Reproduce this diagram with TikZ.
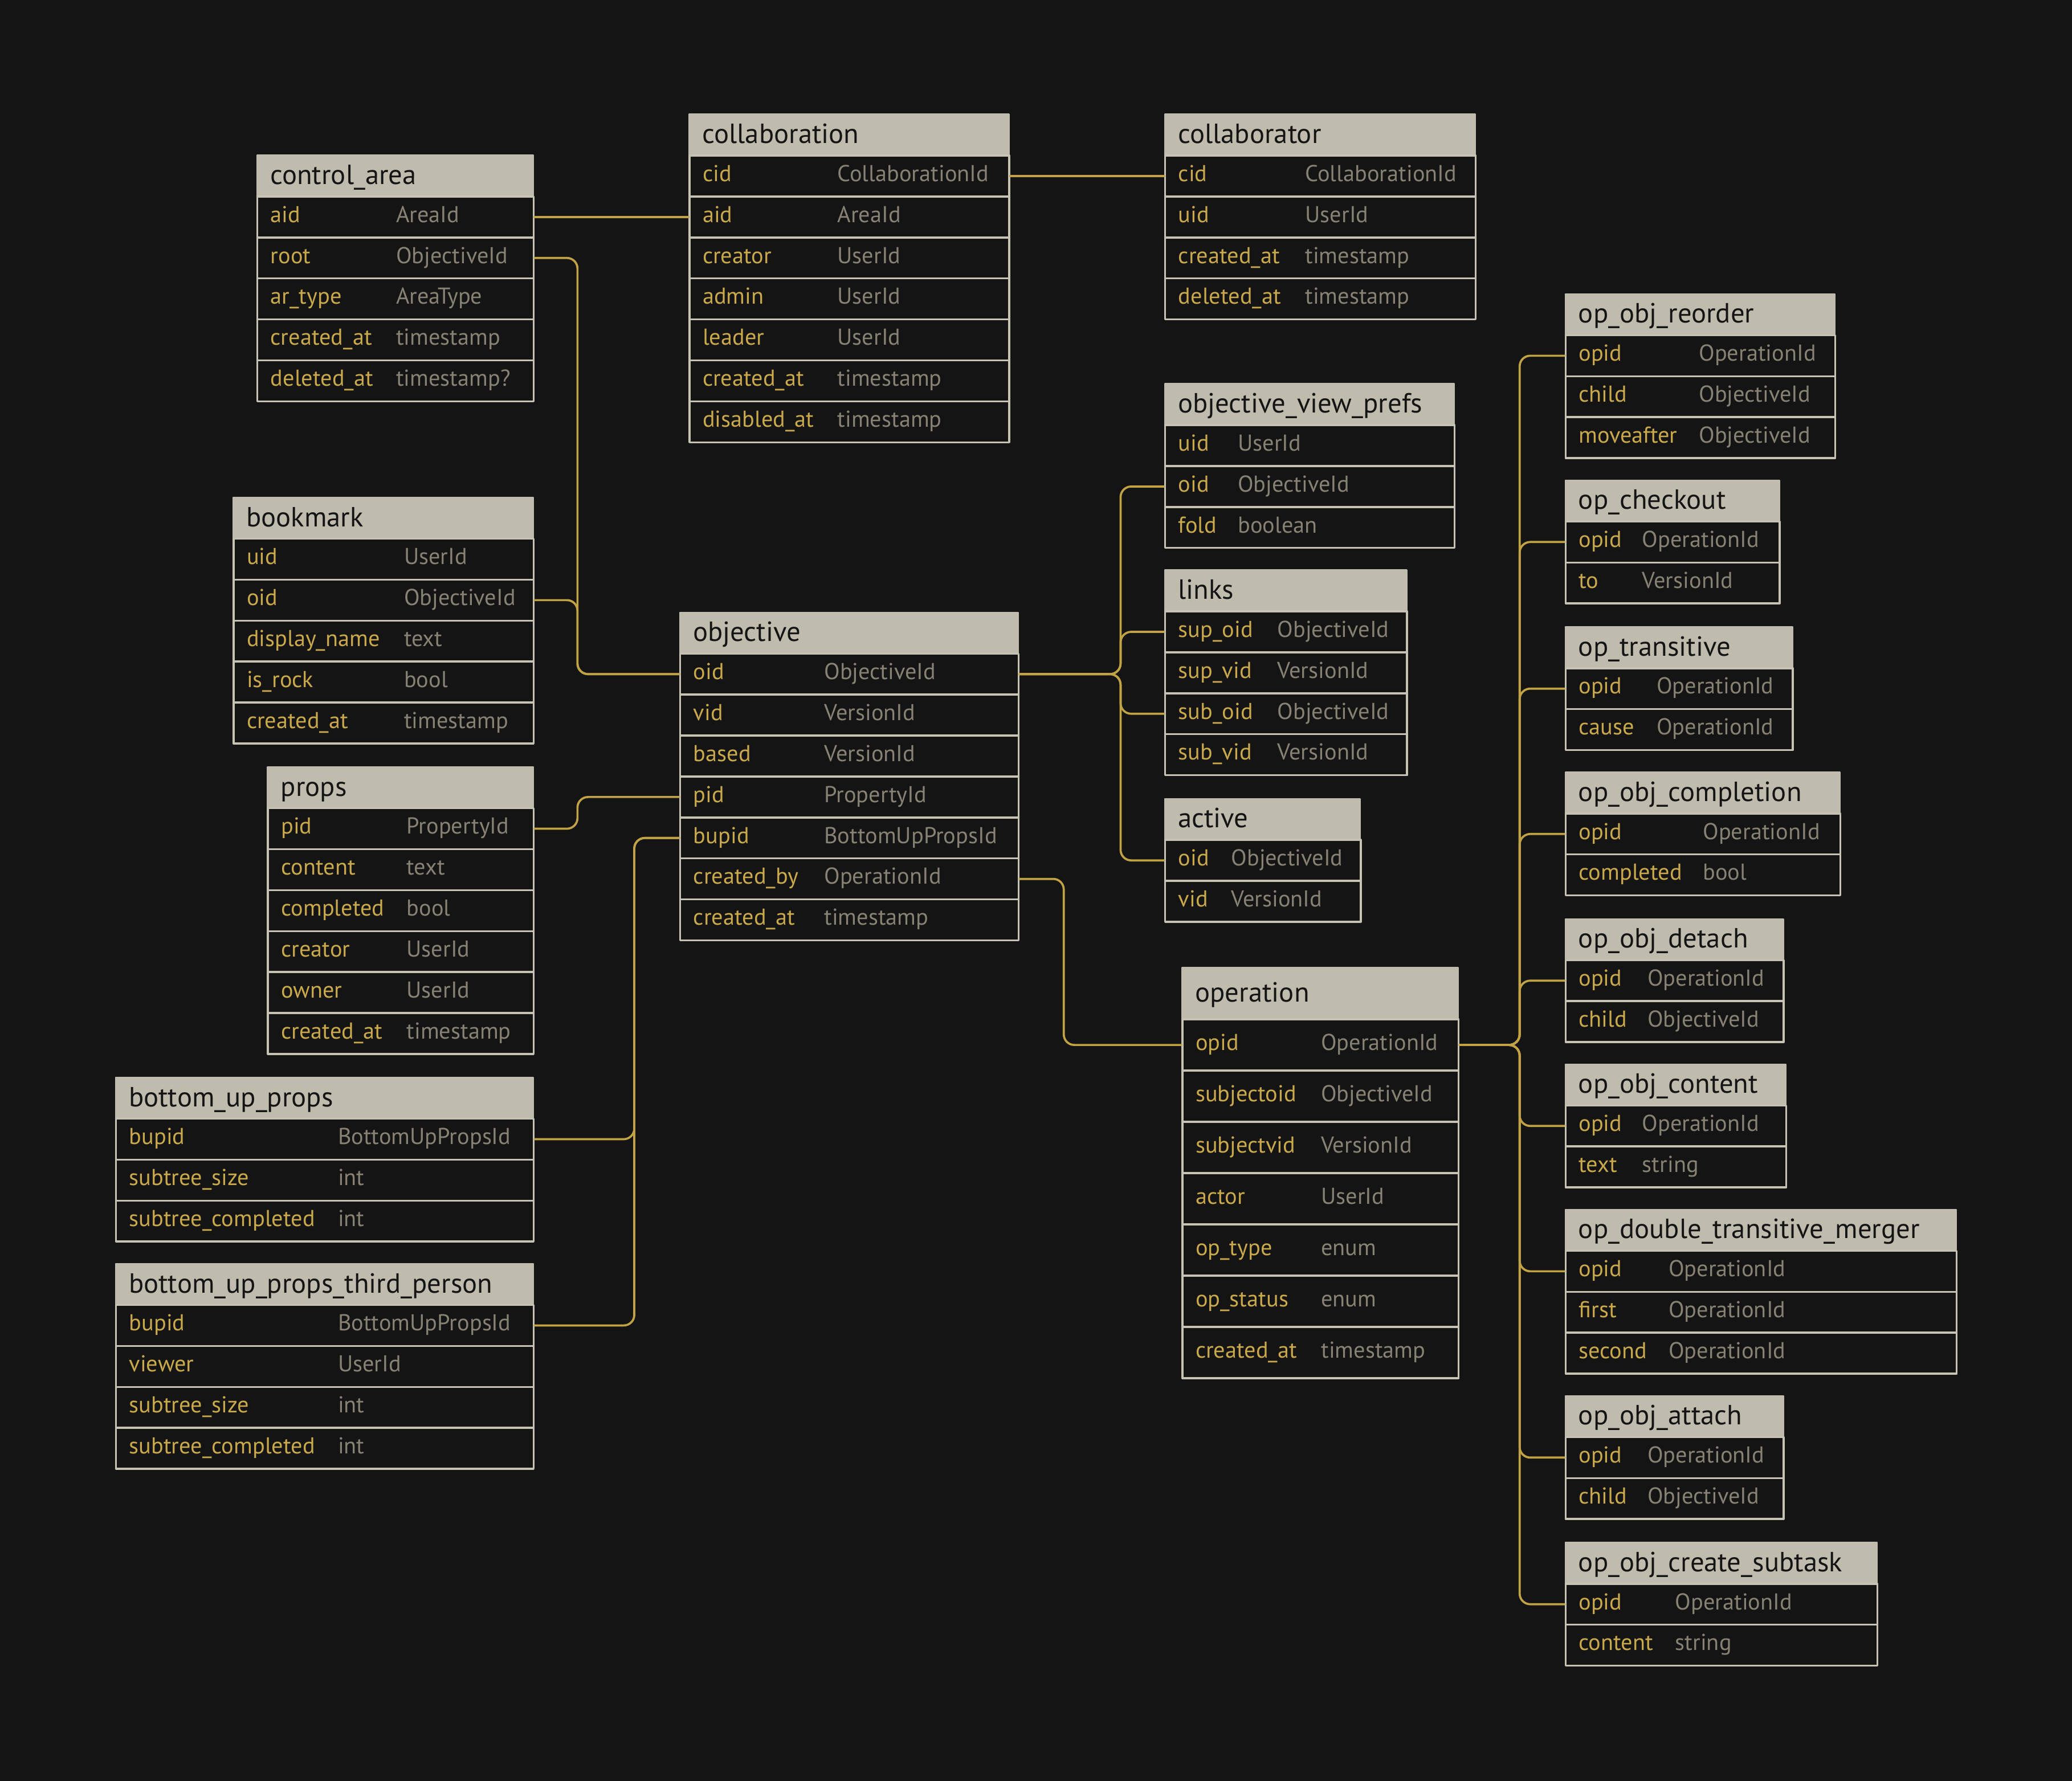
\documentclass[tikz,border=0pt]{standalone}
\usepackage{fontspec}
\setmainfont{PT Sans}
\usetikzlibrary{calc}

\definecolor{bgcol}{HTML}{141414}
\definecolor{hdrcol}{HTML}{BFBCAE}
\definecolor{edgecol}{HTML}{C6C3B5}
\definecolor{fldcol}{HTML}{C9A94C}
\definecolor{typecol}{HTML}{878273}
\definecolor{linkcol}{HTML}{C2A344}

\tikzset{
	tblhead/.style={anchor=north west, fill=hdrcol, draw=hdrcol, line width=1pt, text=bgcol,
		inner xsep=10pt, inner ysep=0pt, font=\fontsize{21}{23}\selectfont, text height=16pt, text depth=3pt},
	tblrow/.style={anchor=north west, fill=bgcol, draw=edgecol, line width=1.5pt, text=fldcol,
		inner xsep=10pt, inner ysep=0pt, font=\fontsize{17.4}{19}\selectfont, text height=12pt, text depth=4pt},
	conn/.style={draw=linkcol, line width=1.6pt, rounded corners=8pt},
}

% [row height]{alias}{title}{x}{y}{width}{type column}{field/type list}
\newcommand{\dbtable}[8][31]{%
	\node[tblhead, minimum height=#1pt] (#2) at (#4,#5) {\makebox[\dimexpr#6pt-20pt\relax][l]{#3}};
	\foreach \fld/\typ [count=\i] in {#8}
		\node[tblrow, minimum height=#1pt] (#2-\i) at (#4,#5+#1*\i)
			{\makebox[#7pt][l]{\fld}\makebox[\dimexpr#6pt-#7pt-20pt\relax][l]{\textcolor{typecol}{\typ}}};
}

\begin{document}
\begin{tikzpicture}[x=1pt, y=-1pt, line join=round, line cap=round]
	\path[use as bounding box, fill=bgcol] (0,0) rectangle (1568,1348);
	%\draw[gray!30] (0,0) grid[step=100] (1568,1348);
	\coordinate (busA) at (437,0);
	\coordinate (busB) at (480,0);
	\coordinate (busC) at (848,0);
	\coordinate (busD) at (805,0);
	\coordinate (busE) at (1150,0);

	\dbtable{ca}{control\_area}{194}{117}{209}{95}{aid/AreaId, root/ObjectiveId, ar\_type/AreaType, created\_at/timestamp, deleted\_at/timestamp?}
	\dbtable{clb}{collaboration}{521}{86}{242}{102}{cid/CollaborationId, aid/AreaId, creator/UserId, admin/UserId, leader/UserId, created\_at/timestamp, disabled\_at/timestamp}
	\dbtable{clr}{collaborator}{881}{86}{235}{96}{cid/CollaborationId, uid/UserId, created\_at/timestamp, deleted\_at/timestamp}
	\dbtable{bm}{bookmark}{176}{376}{227}{119}{uid/UserId, oid/ObjectiveId, display\_name/text, is\_rock/bool, created\_at/timestamp}
	\dbtable{pr}{props}{202}{580}{201}{95}{pid/PropertyId, content/text, completed/bool, creator/UserId, owner/UserId, created\_at/timestamp}
	\dbtable{bu}{bottom\_up\_props}{87}{815}{316}{158}{bupid/BottomUpPropsId, subtree\_size/int, subtree\_completed/int}
	\dbtable{bt}{bottom\_up\_props\_third\_person}{87}{956}{316}{158}{bupid/BottomUpPropsId, viewer/UserId, subtree\_size/int, subtree\_completed/int}
	\dbtable{obj}{objective}{514}{463}{256}{99}{oid/ObjectiveId, vid/VersionId, based/VersionId, pid/PropertyId, bupid/BottomUpPropsId, created\_by/OperationId, created\_at/timestamp}
	\dbtable{ovp}{objective\_view\_prefs}{881}{290}{219}{45}{uid/UserId, oid/ObjectiveId, fold/boolean}
	\dbtable{lk}{links}{881}{431}{183}{75}{sup\_oid/ObjectiveId, sup\_vid/VersionId, sub\_oid/ObjectiveId, sub\_vid/VersionId}
	\dbtable{ac}{active}{881}{604}{148}{40}{oid/ObjectiveId, vid/VersionId}
	\dbtable[38.8]{op}{operation}{894}{732}{209}{95}{opid/OperationId, subjectoid/ObjectiveId, subjectvid/VersionId, actor/UserId, op\_type/enum, op\_status/enum, created\_at/timestamp}
	\dbtable{oor}{op\_obj\_reorder}{1184}{222}{204}{91}{opid/OperationId, child/ObjectiveId, moveafter/ObjectiveId}
	\dbtable{ock}{op\_checkout}{1184}{363}{162}{48}{opid/OperationId, to/VersionId}
	\dbtable{otr}{op\_transitive}{1184}{474}{172}{59}{opid/OperationId, cause/OperationId}
	\dbtable{ocp}{op\_obj\_completion}{1184}{584}{208}{94}{opid/OperationId, completed/bool}
	\dbtable{odt}{op\_obj\_detach}{1184}{695}{165}{52}{opid/OperationId, child/ObjectiveId}
	\dbtable{oct}{op\_obj\_content}{1184}{805}{167}{48}{opid/OperationId, text/string}
	\dbtable{odm}{op\_double\_transitive\_merger}{1184}{915}{296}{68}{opid/OperationId, first/OperationId, second/OperationId}
	\dbtable{oat}{op\_obj\_attach}{1184}{1056}{165}{52}{opid/OperationId, child/ObjectiveId}
	\dbtable{ocs}{op\_obj\_create\_subtask}{1184}{1167}{236}{73}{opid/OperationId, content/string}

	% references
	\draw[conn] (ca-1.east) -- (clb-2.west);
	\draw[conn] (clb-1.east) -- (clr-1.west);
	\draw[conn] (ca-2.east) -| (busA |- obj-1.west) -- (obj-1.west);
	\draw[conn] (bm-2.east) -| (busA |- obj-1.west) -- (obj-1.west);
	\draw[conn] (pr-1.east) -| (busA |- obj-4.west) -- (obj-4.west);
	\draw[conn] (bu-1.east) -| (busB |- obj-5.west) -- (obj-5.west);
	\draw[conn] (bt-1.east) -| (busB |- obj-5.west) -- (obj-5.west);
	\foreach \t in {ovp-2,lk-1,lk-3,ac-1}
		\draw[conn] (obj-1.east) -| (busC |- \t.west) -- (\t.west);
	\draw[conn] (obj-6.east) -| (busD |- op-1.west) -- (op-1.west);
	\foreach \t in {oor,ock,otr,ocp,odt,oct,odm,oat,ocs}
		\draw[conn] (op-1.east) -| (busE |- \t-1.west) -- (\t-1.west);
\end{tikzpicture}
\end{document}
